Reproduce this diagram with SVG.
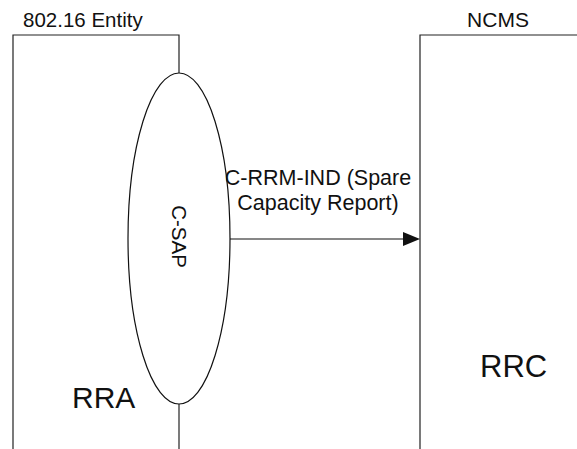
<svg xmlns="http://www.w3.org/2000/svg" width="577" height="449" viewBox="0 0 577 449">
<style>
.ln{fill:none;stroke:#222;stroke-width:1.2}
.t{font-family:"Liberation Sans",Arial,sans-serif;fill:#111}
</style>
<rect width="577" height="449" fill="#fff"/>
<g id="entity">
<path class="ln" d="M13,449 V35 H179 V73"/>
<path class="ln" d="M179,404 V449"/>
<text class="t" x="23" y="27" font-size="20.5">802.16 Entity</text>
<text class="t" x="72" y="408" font-size="30">RRA</text>
</g>
<g id="csap">
<ellipse cx="179" cy="238.5" rx="51" ry="165.5" fill="none" stroke="#111" stroke-width="1.2"/>
<text class="t" font-size="20.5" text-anchor="middle" transform="translate(172,236.5) rotate(90)">C-SAP</text>
</g>
<g id="ncms">
<path class="ln" d="M420,449 V35 H577"/>
<text class="t" x="498" y="27" font-size="21" text-anchor="middle">NCMS</text>
<text class="t" x="480" y="377" font-size="31">RRC</text>
</g>
<g id="connectors">
<line x1="230" y1="239" x2="405" y2="239" stroke="#111" stroke-width="1.2"/>
<polygon points="403,232 420,239 403,246" fill="#111"/>
<text class="t" x="318" y="185" font-size="21.5" text-anchor="middle">C-RRM-IND (Spare</text>
<text class="t" x="318" y="210" font-size="21.5" text-anchor="middle">Capacity Report)</text>
</g>
</svg>
